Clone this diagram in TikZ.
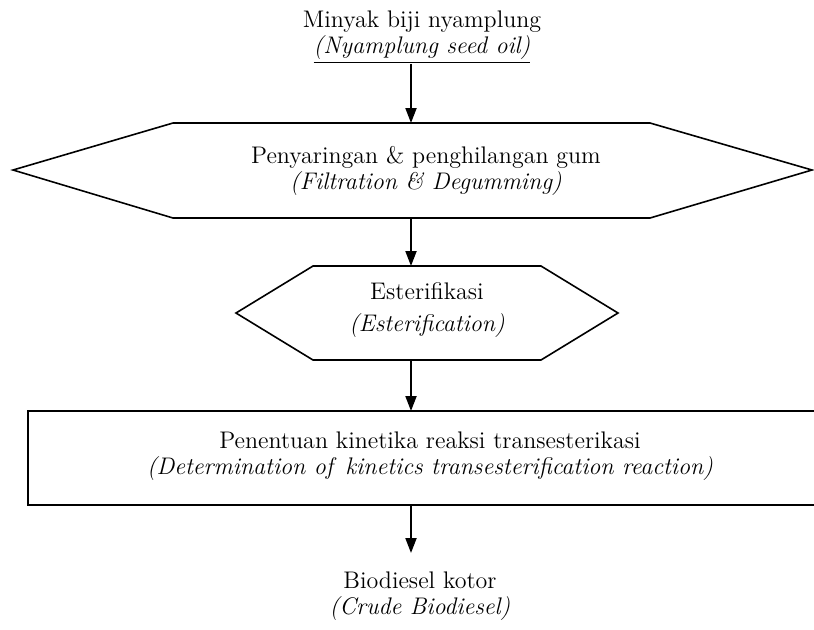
\documentclass[tikz,border=0pt]{standalone}
\usepackage{tikz}
\usetikzlibrary{arrows.meta}
\begin{document}
\begin{tikzpicture}[x=0.5pt,y=-0.5pt,
    txt/.style={align=center,inner sep=0pt,font=\fontsize{12}{13}\selectfont},
    shp/.style={draw=black,line width=0.8pt,line join=miter},
    flow/.style={-{Triangle[width=5.5pt,length=7.5pt]},line width=1pt}]
  \useasboundingbox (0,0) rectangle (814,629);
  % bahan baku
  \node[txt] (oil) at (422,37) {Minyak biji nyamplung\\\underline{\textit{(Nyamplung seed oil)}}};
  % penyaringan
  \draw[shp] (13,170) -- (173,123) -- (650,123) -- (812,170) -- (650,218) -- (173,218) -- cycle;
  \coordinate (h1t) at (411,123);
  \coordinate (h1b) at (411,218);
  \node[txt] (filt) at (426,171) {Penyaringan \& penghilangan gum\\\textit{(Filtration \& Degumming)}};
  % esterifikasi
  \draw[shp] (236,313) -- (313,266) -- (541,266) -- (618,313) -- (541,360) -- (313,360) -- cycle;
  \coordinate (h2t) at (411,266);
  \coordinate (h2b) at (411,360);
  \node[txt] (ester) at (427,310) {Esterifikasi\\[3pt]\textit{(Esterification)}};
  % transesterifikasi
  \draw[shp] (28,411) rectangle (818,505);
  \coordinate (rt) at (411,411);
  \coordinate (rb) at (411,505);
  \node[txt] (trans) at (430,456) {Penentuan kinetika reaksi transesterikasi\\\textit{(Determination of\, kinetics transesterification reaction)}};
  % hasil
  \coordinate (bt) at (411,553);
  \node[txt] (bio) at (420,596) {Biodiesel kotor\\\textit{(Crude Biodiesel)}};
  \draw[flow] (oil.south -| h1t) -- (h1t);
  \draw[flow] (h1b) -- (h2t);
  \draw[flow] (h2b) -- (rt);
  \draw[flow] (rb) -- (bt);
\end{tikzpicture}
\end{document}
